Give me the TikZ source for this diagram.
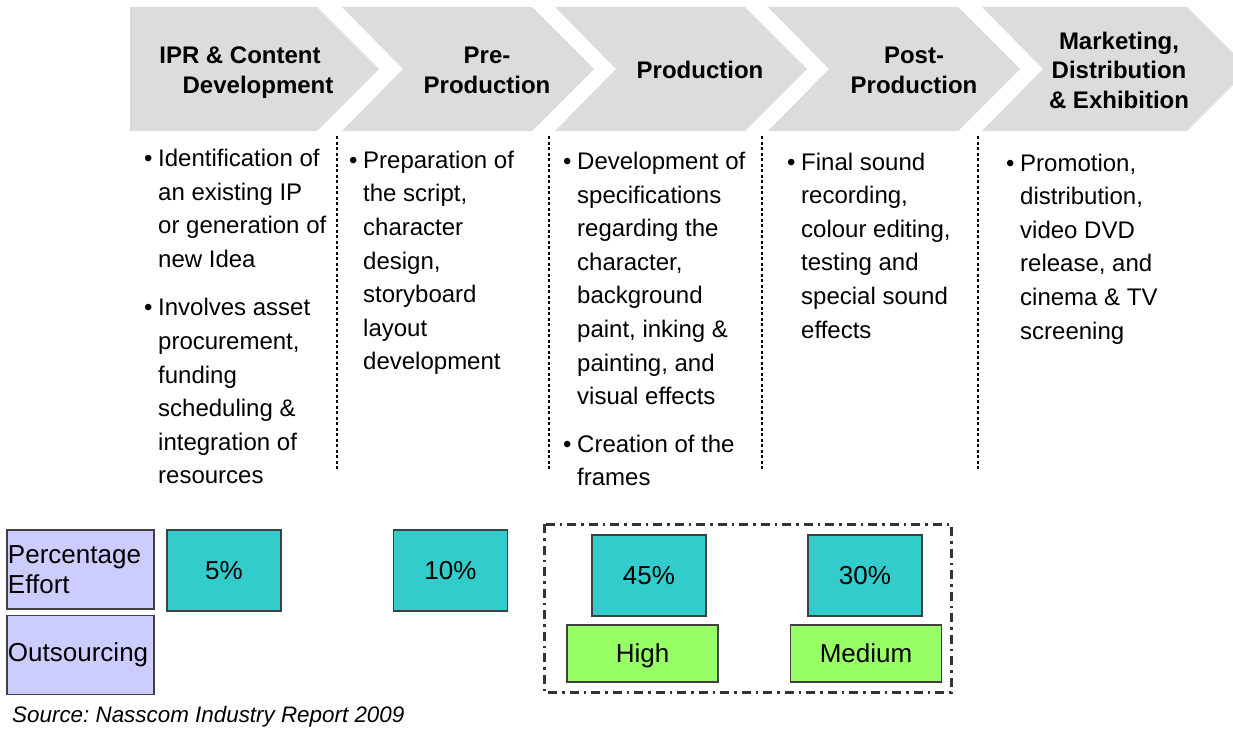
\documentclass[tikz,border=0pt]{standalone}
\usepackage{fontspec}
\setmainfont{Liberation Sans}
\usetikzlibrary{positioning}
\definecolor{chev}{RGB}{220,220,220}
\definecolor{lav}{RGB}{204,204,255}
\definecolor{aqua}{RGB}{51,204,204}
\definecolor{lime}{RGB}{153,255,102}
\definecolor{edge}{RGB}{64,64,64}
\newcommand{\bul}{\makebox[14pt][l]{\textbullet}}

\begin{document}
\begin{tikzpicture}[x=1pt, y=-1pt, node distance=5pt,
		hd/.style={font=\fontsize{24}{29.5}\selectfont\bfseries, align=center, text depth=0pt, inner sep=0pt},
		txt/.style={font=\fontsize{24}{33.6}\selectfont, anchor=base west, inner sep=0pt},
		bx/.style={draw=edge, line width=1.5pt, font=\fontsize{26}{30}\selectfont, inner sep=0pt},
		pbox/.style={bx, fill=aqua, minimum width=114pt, minimum height=81pt, text height=18.6pt, text depth=0pt},
		obox/.style={bx, fill=lime, minimum width=151pt, minimum height=57pt, text height=18.6pt, text depth=0pt},
		lbl/.style={bx, fill=lav, text width=145pt, minimum height=79pt, align=left, inner xsep=1pt},
		sep/.style={line width=1.3pt, dash pattern=on 3pt off 2.5pt},
		frm/.style={draw=black!80, line width=3pt, dash pattern=on 9pt off 5pt on 2.5pt off 5pt}]
		\useasboundingbox (0,0) rectangle (1233,733);
		\clip (0,0) rectangle (1233,733);

		% stages
		\fill[chev] (130,7) -- (317,7) -- (379,69) -- (317,131) -- (130,131) -- cycle;
		\foreach \x/\w in {342/190, 555/190, 768/190, 982/205}
			\fill[chev] (\x,7) -- ({\x+\w},7) -- ({\x+\w+62},69) -- ({\x+\w},131) -- (\x,131) -- ({\x+61},69) -- cycle;

		\node[hd] (H1) at (258,70) {IPR \& Content\hspace*{36pt}\\Development};
		\node[hd] (H2) at (487,70) {Pre-\\Production};
		\node[hd] (H3) at (700,70) {Production};
		\node[hd] (H4) at (914,70) {Post-\\Production};
		\node[hd] (H5) at (1119,70) {Marketing,\\Distribution\\\& Exhibition};

		\foreach \x in {337,549,762,978}
			\draw[sep] (\x,136) -- (\x,469);

		% activities
		\node[txt] (T1) at (144,166.5) {\begin{tabular}[t]{@{}l@{}l@{}}
			\bul & Identification of\\
			& an existing IP\\
			& or generation of\\
			& new Idea\\[15pt]
			\bul & Involves asset\\
			& procurement,\\
			& funding\\
			& scheduling \&\\
			& integration of\\
			& resources
		\end{tabular}};
		\node[txt] (T2) at (349,168.3) {\begin{tabular}[t]{@{}l@{}l@{}}
			\bul & Preparation of\\
			& the script,\\
			& character\\
			& design,\\
			& storyboard\\
			& layout\\
			& development
		\end{tabular}};
		\node[txt] (T3) at (563,169.5) {\begin{tabular}[t]{@{}l@{}l@{}}
			\bul & Development of\\
			& specifications\\
			& regarding the\\
			& character,\\
			& background\\
			& paint, inking \&\\
			& painting, and\\
			& visual effects\\[14pt]
			\bul & Creation of the\\
			& frames
		\end{tabular}};
		\node[txt] (T4) at (787,170) {\begin{tabular}[t]{@{}l@{}l@{}}
			\bul & Final sound\\
			& recording,\\
			& colour editing,\\
			& testing and\\
			& special sound\\
			& effects
		\end{tabular}};
		\node[txt] (T5) at (1006,171) {\begin{tabular}[t]{@{}l@{}l@{}}
			\bul & Promotion,\\
			& distribution,\\
			& video DVD\\
			& release, and\\
			& cinema \& TV\\
			& screening
		\end{tabular}};

		% effort and outsourcing
		\node[lbl] (PE) at (80.5,569.5) {Percentage\\Effort};
		\node[lbl, below=of PE] (OS) {Outsourcing};
		\node[pbox] (P1) at (224,570.5) {5\%};
		\node[pbox] (P2) at (450.5,570.5) {10\%};
		\node[pbox] (P3) at (649,575.5) {45\%};
		\node[pbox] (P4) at (865,575.5) {30\%};
		\node[obox] (O3) at (642.5,653.5) {High};
		\node[obox] (O4) at (866,653.5) {Medium};
		\draw[frm] (544,524) rectangle (951,692);

		\node[anchor=base west, inner sep=0pt, font=\fontsize{22.4}{26}\selectfont\itshape] (src) at (12,722) {\frenchspacing Source: Nasscom Industry Report 2009};
	\end{tikzpicture}
\end{document}
